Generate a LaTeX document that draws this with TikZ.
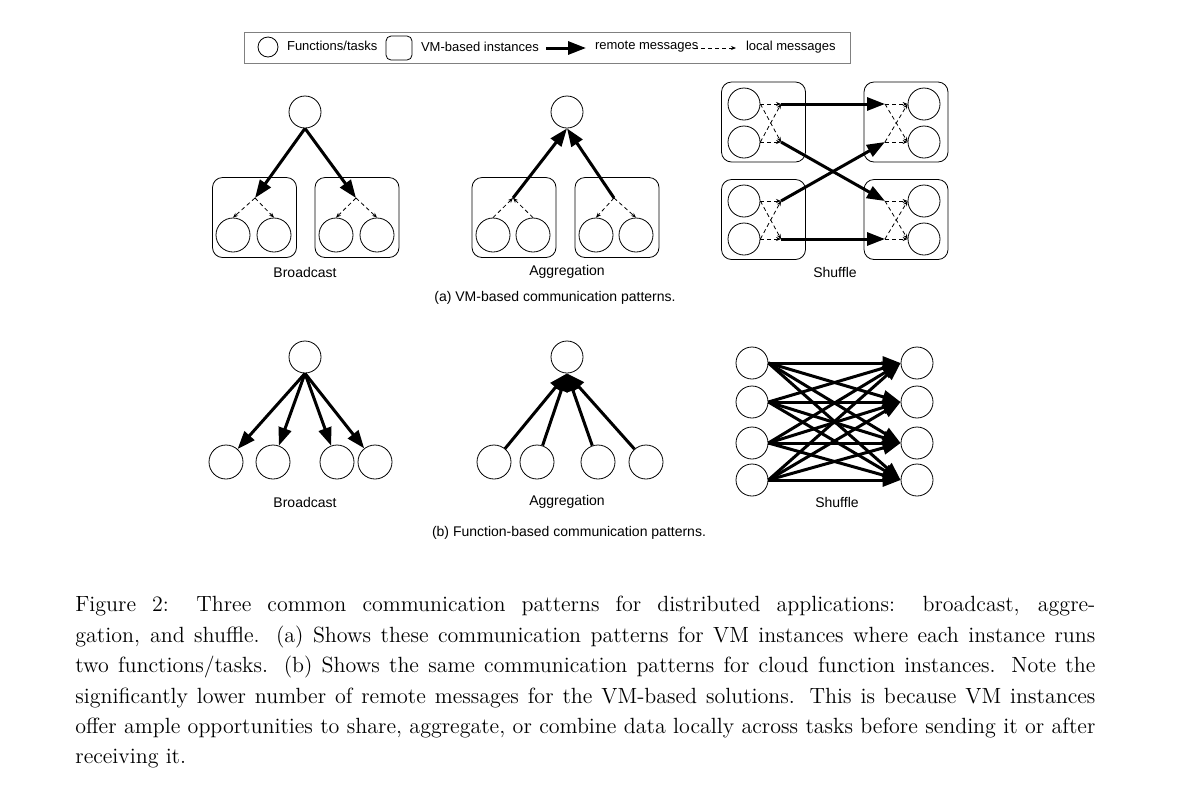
\documentclass[tikz,border=0pt]{standalone}
\usepackage{fontspec}
\newfontfamily\arialfont{Liberation Sans}
\usetikzlibrary{arrows.meta}
\tikzset{
  task/.style={circle, draw, minimum size=16pt, inner sep=0pt},
  vm/.style={draw, rounded corners=5pt, minimum width=42pt, minimum height=40pt, inner sep=0pt},
  remote/.style={-{Triangle[length=9pt,width=6.5pt]}, line width=1.5pt},
  local/.style={-{Stealth[length=2.5pt,width=2pt]}, dashed, line width=0.4pt, dash pattern=on 2pt off 1.5pt},
  lbl/.style={font=\arialfont\fontsize{7}{8}\selectfont},
}
\begin{document}
\begin{tikzpicture}[x=0.5pt, y=-0.5pt]
    \useasboundingbox (0,0) rectangle (1200,799) ;
    % legend
    \node (legend) [draw=gray, minimum width=303pt, minimum height=15.5pt, inner sep=0pt] at (547,47.5) {} ;
    \node (lgtask) [task, minimum size=10pt] at (268,47) {} ;
    \node [lbl, font=\arialfont\fontsize{6.5}{7}\selectfont, anchor=west] at (280,46) {Functions/tasks} ;
    \node (lgvm) [draw, rounded corners=2.5pt, minimum width=13pt, minimum height=12pt, inner sep=0pt] at (399,48) {} ;
    \node [lbl, font=\arialfont\fontsize{6.5}{7}\selectfont, anchor=west] at (414,47) {VM-based instances} ;
    \coordinate (lgra) at (546,48) ;
    \coordinate (lgrb) at (586,48) ;
    \draw [remote] (lgra) -- (lgrb) ;
    \node [lbl, font=\arialfont\fontsize{6.5}{7}\selectfont, anchor=west] at (588,47) {remote messages} ;
    \coordinate (lgla) at (694,48) ;
    \coordinate (lglb) at (736,48) ;
    \draw [local] (lgla) -- (lglb) ;
    \node [lbl, font=\arialfont\fontsize{6.5}{7}\selectfont, anchor=west] at (739,47) {local messages} ;

    % (a) broadcast
    \node (ab) [task] at (305,112) {} ;
    \node (abv1) [vm] at (254.5,217.5) {} ;
    \node (abv2) [vm] at (357,217.5) {} ;
    \node (ab1) [task, minimum size=17pt] at (233,235) {} ;
    \node (ab2) [task, minimum size=17pt] at (274,235) {} ;
    \node (ab3) [task, minimum size=17pt] at (336,235) {} ;
    \node (ab4) [task, minimum size=17pt] at (377,235) {} ;
    \coordinate (abp1) at (255,198) ;
    \coordinate (abp2) at (356,198) ;
    \draw [remote] (ab.south) -- (abp1) ;
    \draw [remote] (ab.south) -- (abp2) ;
    \draw [local] (abp1) -- (ab1.north) ;
    \draw [local] (abp1) -- (ab2.north) ;
    \draw [local] (abp2) -- (ab3.north) ;
    \draw [local] (abp2) -- (ab4.north) ;
    \node [lbl] at (305,272) {Broadcast} ;

    % (a) aggregation
    \node (ag) [task] at (567,112) {} ;
    \node (agv1) [vm] at (514,217.5) {} ;
    \node (agv2) [vm] at (617,217.5) {} ;
    \node (ag1) [task, minimum size=17pt] at (493,235) {} ;
    \node (ag2) [task, minimum size=17pt] at (533,235) {} ;
    \node (ag3) [task, minimum size=17pt] at (596,235) {} ;
    \node (ag4) [task, minimum size=17pt] at (636,235) {} ;
    \coordinate (agp1) at (513,198) ;
    \coordinate (agp2) at (614,198) ;
    \draw [remote] (agp1) -- (ag.south) ;
    \draw [remote] (agp2) -- (ag.south) ;
    \draw [local] (ag1.north) -- (agp1) ;
    \draw [local] (ag2.north) -- (agp1) ;
    \draw [local] (agp2) -- (ag3.north) ;
    \draw [local] (agp2) -- (ag4.north) ;
    \node [lbl] at (567,272) {Aggregation} ;

    % (a) shuffle
    \node (asv1) [vm] at (763.5,122) {} ;
    \node (asv2) [vm] at (763.5,219.5) {} ;
    \node (asv3) [vm] at (906,122) {} ;
    \node (asv4) [vm] at (906,219.5) {} ;
    \node (as1) [task] at (744,104) {} ;
    \node (as2) [task] at (744,142) {} ;
    \node (as3) [task] at (744,201) {} ;
    \node (as4) [task] at (744,239) {} ;
    \node (as5) [task] at (924,104) {} ;
    \node (as6) [task] at (924,142) {} ;
    \node (as7) [task] at (924,201) {} ;
    \node (as8) [task] at (924,239) {} ;
    \coordinate (asp1) at (781,104) ;
    \coordinate (asp2) at (781,142) ;
    \coordinate (asp3) at (781,201) ;
    \coordinate (asp4) at (781,239) ;
    \coordinate (asq1) at (885,104) ;
    \coordinate (asq2) at (885,142) ;
    \coordinate (asq3) at (885,201) ;
    \coordinate (asq4) at (885,239) ;
    \draw [local] (as1.east) -- (asp1) ;
    \draw [local] (as1.east) -- (asp2) ;
    \draw [local] (as2.east) -- (asp1) ;
    \draw [local] (as2.east) -- (asp2) ;
    \draw [local] (as3.east) -- (asp3) ;
    \draw [local] (as3.east) -- (asp4) ;
    \draw [local] (as4.east) -- (asp3) ;
    \draw [local] (as4.east) -- (asp4) ;
    \draw [local] (asq1) -- (as5.west) ;
    \draw [local] (asq1) -- (as6.west) ;
    \draw [local] (asq2) -- (as5.west) ;
    \draw [local] (asq2) -- (as6.west) ;
    \draw [local] (asq3) -- (as7.west) ;
    \draw [local] (asq3) -- (as8.west) ;
    \draw [local] (asq4) -- (as7.west) ;
    \draw [local] (asq4) -- (as8.west) ;
    \draw [remote] (asp1) -- (asq1) ;
    \draw [remote] (asp2) -- (asq3) ;
    \draw [remote] (asp3) -- (asq2) ;
    \draw [remote] (asp4) -- (asq4) ;
    \node [lbl] at (835,272) {Shuffle} ;
    \node (capa) [lbl] at (555,298) {(a) VM-based communication patterns.} ;

    % (b) broadcast
    \node (fb) [task] at (305,357) {} ;
    \node (fb1) [task, minimum size=17pt] at (226,462) {} ;
    \node (fb2) [task, minimum size=17pt] at (273,462) {} ;
    \node (fb3) [task, minimum size=17pt] at (337,462) {} ;
    \node (fb4) [task, minimum size=17pt] at (375,462) {} ;
    \foreach \i in {1,...,4}
        \draw [remote] (fb.south) -- (fb\i) ;
    \node [lbl] at (305,502) {Broadcast} ;

    % (b) aggregation
    \node (fa) [task] at (567,357) {} ;
    \node (fa1) [task, minimum size=17pt] at (494,462) {} ;
    \node (fa2) [task, minimum size=17pt] at (537,462) {} ;
    \node (fa3) [task, minimum size=17pt] at (598,462) {} ;
    \node (fa4) [task, minimum size=17pt] at (646,462) {} ;
    \foreach \i in {1,...,4}
        \draw [remote] (fa\i) -- (fa.south) ;
    \node [lbl] at (567,502) {Aggregation} ;

    % (b) shuffle
    \foreach \i/\y in {1/363,2/402,3/443,4/480} {
        \node (fs\i) [task] at (752,\y) {} ;
        \node (ft\i) [task] at (917,\y) {} ;
    }
    \foreach \i in {1,...,4}
        \foreach \j in {1,...,4}
            \draw [remote] (fs\i.east) -- (ft\j.west) ;
    \node [lbl] at (837,502) {Shuffle} ;
    \node (capb) [lbl] at (569,533) {(b) Function-based communication patterns.} ;

    % caption
    \node (caption) [anchor=north west, text width=510pt, align=justify, inner sep=0pt,
        font=\fontsize{11}{15.2}\selectfont] at (75,596) {Figure 2: Three common communication patterns for distributed applications: broadcast, aggre-\linebreak gation, and shuffle. (a) Shows these communication patterns for VM instances where each instance runs two functions/tasks. (b) Shows the same communication patterns for cloud function instances. Note the significantly lower number of remote messages for the VM-based solutions. This is because VM instances offer ample opportunities to share, aggregate, or combine data locally across tasks before sending it or after receiving it.} ;
\end{tikzpicture}
\end{document}
